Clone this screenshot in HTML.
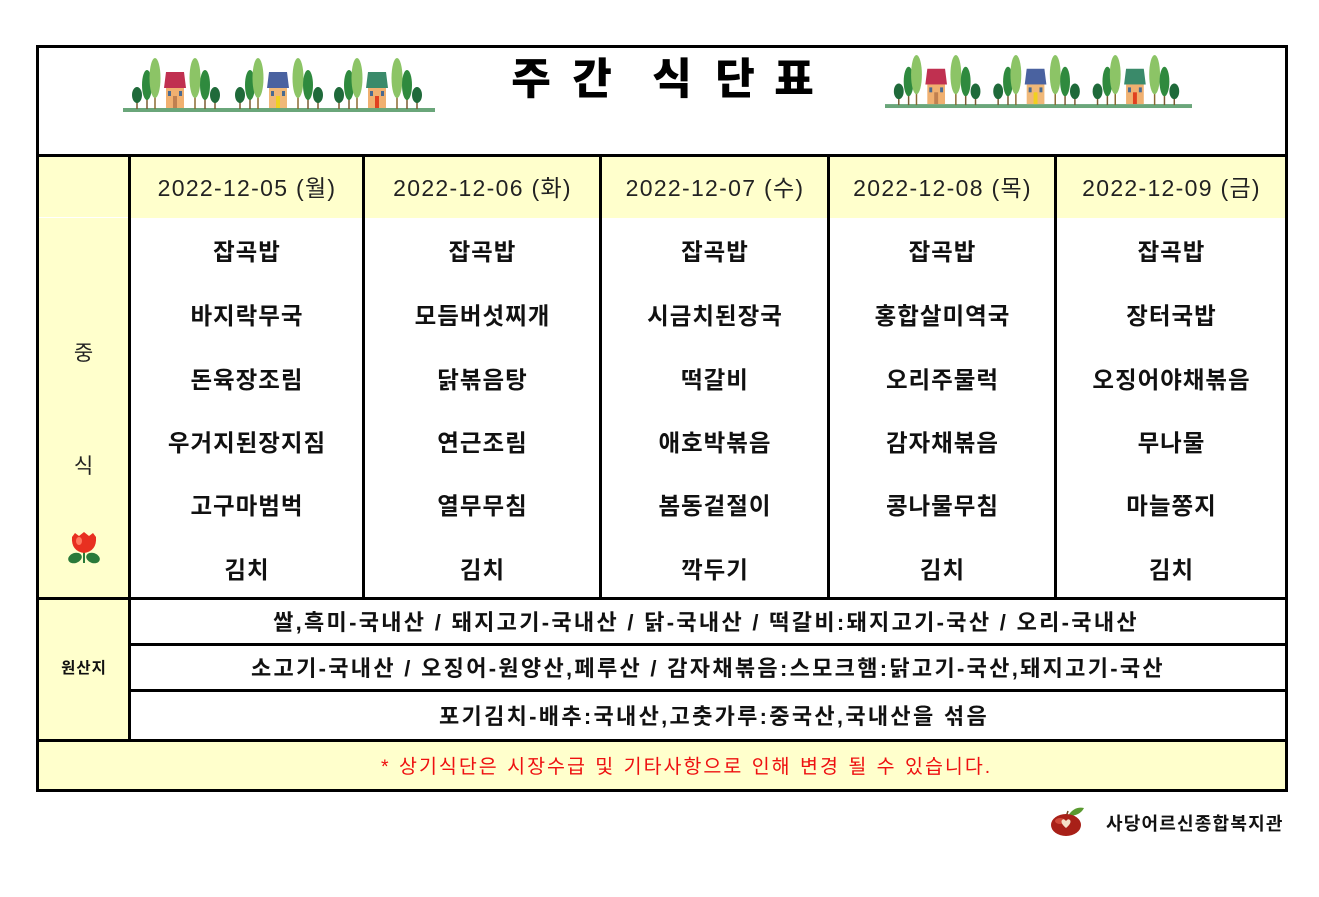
<!DOCTYPE html>
<html><head><meta charset="utf-8">
<style>
*{margin:0;padding:0;box-sizing:border-box}
body{width:1319px;height:897px;background:#fff;position:relative;overflow:hidden;font-family:"Liberation Sans","Noto Sans CJK KR",sans-serif;color:#111}
.a{position:absolute}
.ln{position:absolute;background:#000}
.y{position:absolute;background:#ffffcc}
.t{position:absolute;text-align:center;white-space:nowrap}
.m{font-size:23.5px;font-weight:700;height:30px;line-height:30px;color:#111;letter-spacing:1px;text-indent:1px}
.d{font-size:23px;font-weight:400;height:30px;line-height:30px;color:#222;letter-spacing:1.3px;text-indent:1px}
.o{font-size:22px;font-weight:700;height:30px;line-height:30px;color:#111;letter-spacing:2.3px;left:131px;width:1154px}
.ti{position:absolute;top:57px;font-size:43px;font-weight:900;line-height:46px;width:46px;text-align:center;color:#000}
</style></head><body>

<!-- fills -->
<div class="y" style="left:39px;top:157px;width:89px;height:583px"></div>
<div class="y" style="left:131px;top:157px;width:1154px;height:61px"></div>
<div class="y" style="left:39px;top:742px;width:1246px;height:48px"></div>
<div class="a" style="left:39px;top:217px;width:89px;height:1px;background:#fff"></div>

<!-- outer border -->
<div class="a" style="left:36px;top:45px;width:1252px;height:747px;border:3px solid #000"></div>
<!-- horizontal lines -->
<div class="ln" style="left:36px;top:154px;width:1252px;height:3px"></div>
<div class="ln" style="left:36px;top:597px;width:1252px;height:3px"></div>
<div class="ln" style="left:131px;top:643px;width:1154px;height:3px"></div>
<div class="ln" style="left:131px;top:689px;width:1154px;height:3px"></div>
<div class="ln" style="left:36px;top:739px;width:1252px;height:3px"></div>
<!-- vertical lines -->
<div class="ln" style="left:128px;top:154px;width:3px;height:587px"></div>
<div class="ln" style="left:362px;top:154px;width:3px;height:446px"></div>
<div class="ln" style="left:599px;top:154px;width:3px;height:446px"></div>
<div class="ln" style="left:827px;top:154px;width:3px;height:446px"></div>
<div class="ln" style="left:1054px;top:154px;width:3px;height:446px"></div>

<!-- title -->
<div class="ti" style="left:508px">주</div>
<div class="ti" style="left:569px">간</div>
<div class="ti" style="left:649px">식</div>
<div class="ti" style="left:712px">단</div>
<div class="ti" style="left:771px">표</div>

<!-- tree images -->
<svg class="a" style="left:123px;top:56px" width="312" height="57" viewBox="0 0 312 57">
<rect x="0" y="52" width="312" height="4" fill="#6aa67a"/>
<g transform="translate(14,0)">
  <line x1="0" y1="40" x2="0" y2="53" stroke="#7a5a30" stroke-width="1.5"/><ellipse cx="0" cy="39" rx="5" ry="8" fill="#1f6a3a"/>
  <line x1="10" y1="35" x2="10" y2="53" stroke="#7a5a30" stroke-width="1.5"/><ellipse cx="10" cy="29" rx="5" ry="15" fill="#2f8a3e"/>
  <line x1="18" y1="30" x2="18" y2="53" stroke="#8a6a30" stroke-width="1.5"/><ellipse cx="18" cy="22" rx="5.5" ry="20" fill="#8cc466"/>
  <polygon points="27,32 29,16 47,16 49,32" fill="#c03050"/><rect x="29" y="32" width="18" height="20" fill="#f0b070"/>
  <rect x="31" y="35" width="3" height="5" fill="#4a6a90"/><rect x="42" y="35" width="3" height="5" fill="#4a6a90"/><rect x="36" y="40" width="4" height="12" fill="#c08050"/>
  <line x1="58" y1="30" x2="58" y2="53" stroke="#8a6a30" stroke-width="1.5"/><ellipse cx="58" cy="22" rx="5.5" ry="20" fill="#8cc466"/>
  <line x1="68" y1="35" x2="68" y2="53" stroke="#7a5a30" stroke-width="1.5"/><ellipse cx="68" cy="29" rx="5" ry="15" fill="#2f8a3e"/>
  <line x1="78" y1="40" x2="78" y2="53" stroke="#7a5a30" stroke-width="1.5"/><ellipse cx="78" cy="39" rx="5" ry="8" fill="#1f6a3a"/>
</g>
<g transform="translate(117,0)">
  <line x1="0" y1="40" x2="0" y2="53" stroke="#7a5a30" stroke-width="1.5"/><ellipse cx="0" cy="39" rx="5" ry="8" fill="#1f6a3a"/>
  <line x1="10" y1="35" x2="10" y2="53" stroke="#7a5a30" stroke-width="1.5"/><ellipse cx="10" cy="29" rx="5" ry="15" fill="#2f8a3e"/>
  <line x1="18" y1="30" x2="18" y2="53" stroke="#8a6a30" stroke-width="1.5"/><ellipse cx="18" cy="22" rx="5.5" ry="20" fill="#8cc466"/>
  <polygon points="27,32 29,16 47,16 49,32" fill="#4a62a0"/><rect x="29" y="32" width="18" height="20" fill="#f0b878"/>
  <rect x="31" y="35" width="3" height="5" fill="#4a6a90"/><rect x="42" y="35" width="3" height="5" fill="#4a6a90"/><rect x="36" y="40" width="4" height="12" fill="#f0d020"/>
  <line x1="58" y1="30" x2="58" y2="53" stroke="#8a6a30" stroke-width="1.5"/><ellipse cx="58" cy="22" rx="5.5" ry="20" fill="#8cc466"/>
  <line x1="68" y1="35" x2="68" y2="53" stroke="#7a5a30" stroke-width="1.5"/><ellipse cx="68" cy="29" rx="5" ry="15" fill="#2f8a3e"/>
  <line x1="78" y1="40" x2="78" y2="53" stroke="#7a5a30" stroke-width="1.5"/><ellipse cx="78" cy="39" rx="5" ry="8" fill="#1f6a3a"/>
</g>
<g transform="translate(216,0)">
  <line x1="0" y1="40" x2="0" y2="53" stroke="#7a5a30" stroke-width="1.5"/><ellipse cx="0" cy="39" rx="5" ry="8" fill="#1f6a3a"/>
  <line x1="10" y1="35" x2="10" y2="53" stroke="#7a5a30" stroke-width="1.5"/><ellipse cx="10" cy="29" rx="5" ry="15" fill="#2f8a3e"/>
  <line x1="18" y1="30" x2="18" y2="53" stroke="#8a6a30" stroke-width="1.5"/><ellipse cx="18" cy="22" rx="5.5" ry="20" fill="#8cc466"/>
  <polygon points="27,32 29,16 47,16 49,32" fill="#3a8a6a"/><rect x="29" y="32" width="18" height="20" fill="#f0b070"/>
  <rect x="31" y="35" width="3" height="5" fill="#4a6a90"/><rect x="42" y="35" width="3" height="5" fill="#4a6a90"/><rect x="36" y="40" width="4" height="12" fill="#e04020"/>
  <line x1="58" y1="30" x2="58" y2="53" stroke="#8a6a30" stroke-width="1.5"/><ellipse cx="58" cy="22" rx="5.5" ry="20" fill="#8cc466"/>
  <line x1="68" y1="35" x2="68" y2="53" stroke="#7a5a30" stroke-width="1.5"/><ellipse cx="68" cy="29" rx="5" ry="15" fill="#2f8a3e"/>
  <line x1="78" y1="40" x2="78" y2="53" stroke="#7a5a30" stroke-width="1.5"/><ellipse cx="78" cy="39" rx="5" ry="8" fill="#1f6a3a"/>
</g>
</svg>

<svg class="a" style="left:885px;top:53px" width="307" height="56" viewBox="0 0 312 57" preserveAspectRatio="none">
<rect x="0" y="52" width="312" height="4" fill="#6aa67a"/>
<g transform="translate(14,0)">
  <line x1="0" y1="40" x2="0" y2="53" stroke="#7a5a30" stroke-width="1.5"/><ellipse cx="0" cy="39" rx="5" ry="8" fill="#1f6a3a"/>
  <line x1="10" y1="35" x2="10" y2="53" stroke="#7a5a30" stroke-width="1.5"/><ellipse cx="10" cy="29" rx="5" ry="15" fill="#2f8a3e"/>
  <line x1="18" y1="30" x2="18" y2="53" stroke="#8a6a30" stroke-width="1.5"/><ellipse cx="18" cy="22" rx="5.5" ry="20" fill="#8cc466"/>
  <polygon points="27,32 29,16 47,16 49,32" fill="#c03050"/><rect x="29" y="32" width="18" height="20" fill="#f0b070"/>
  <rect x="31" y="35" width="3" height="5" fill="#4a6a90"/><rect x="42" y="35" width="3" height="5" fill="#4a6a90"/><rect x="36" y="40" width="4" height="12" fill="#c08050"/>
  <line x1="58" y1="30" x2="58" y2="53" stroke="#8a6a30" stroke-width="1.5"/><ellipse cx="58" cy="22" rx="5.5" ry="20" fill="#8cc466"/>
  <line x1="68" y1="35" x2="68" y2="53" stroke="#7a5a30" stroke-width="1.5"/><ellipse cx="68" cy="29" rx="5" ry="15" fill="#2f8a3e"/>
  <line x1="78" y1="40" x2="78" y2="53" stroke="#7a5a30" stroke-width="1.5"/><ellipse cx="78" cy="39" rx="5" ry="8" fill="#1f6a3a"/>
</g>
<g transform="translate(115,0)">
  <line x1="0" y1="40" x2="0" y2="53" stroke="#7a5a30" stroke-width="1.5"/><ellipse cx="0" cy="39" rx="5" ry="8" fill="#1f6a3a"/>
  <line x1="10" y1="35" x2="10" y2="53" stroke="#7a5a30" stroke-width="1.5"/><ellipse cx="10" cy="29" rx="5" ry="15" fill="#2f8a3e"/>
  <line x1="18" y1="30" x2="18" y2="53" stroke="#8a6a30" stroke-width="1.5"/><ellipse cx="18" cy="22" rx="5.5" ry="20" fill="#8cc466"/>
  <polygon points="27,32 29,16 47,16 49,32" fill="#4a62a0"/><rect x="29" y="32" width="18" height="20" fill="#f0b878"/>
  <rect x="31" y="35" width="3" height="5" fill="#4a6a90"/><rect x="42" y="35" width="3" height="5" fill="#4a6a90"/><rect x="36" y="40" width="4" height="12" fill="#f0d020"/>
  <line x1="58" y1="30" x2="58" y2="53" stroke="#8a6a30" stroke-width="1.5"/><ellipse cx="58" cy="22" rx="5.5" ry="20" fill="#8cc466"/>
  <line x1="68" y1="35" x2="68" y2="53" stroke="#7a5a30" stroke-width="1.5"/><ellipse cx="68" cy="29" rx="5" ry="15" fill="#2f8a3e"/>
  <line x1="78" y1="40" x2="78" y2="53" stroke="#7a5a30" stroke-width="1.5"/><ellipse cx="78" cy="39" rx="5" ry="8" fill="#1f6a3a"/>
</g>
<g transform="translate(216,0)">
  <line x1="0" y1="40" x2="0" y2="53" stroke="#7a5a30" stroke-width="1.5"/><ellipse cx="0" cy="39" rx="5" ry="8" fill="#1f6a3a"/>
  <line x1="10" y1="35" x2="10" y2="53" stroke="#7a5a30" stroke-width="1.5"/><ellipse cx="10" cy="29" rx="5" ry="15" fill="#2f8a3e"/>
  <line x1="18" y1="30" x2="18" y2="53" stroke="#8a6a30" stroke-width="1.5"/><ellipse cx="18" cy="22" rx="5.5" ry="20" fill="#8cc466"/>
  <polygon points="27,32 29,16 47,16 49,32" fill="#3a8a6a"/><rect x="29" y="32" width="18" height="20" fill="#f0b070"/>
  <rect x="31" y="35" width="3" height="5" fill="#4a6a90"/><rect x="42" y="35" width="3" height="5" fill="#4a6a90"/><rect x="36" y="40" width="4" height="12" fill="#e04020"/>
  <line x1="58" y1="30" x2="58" y2="53" stroke="#8a6a30" stroke-width="1.5"/><ellipse cx="58" cy="22" rx="5.5" ry="20" fill="#8cc466"/>
  <line x1="68" y1="35" x2="68" y2="53" stroke="#7a5a30" stroke-width="1.5"/><ellipse cx="68" cy="29" rx="5" ry="15" fill="#2f8a3e"/>
  <line x1="78" y1="40" x2="78" y2="53" stroke="#7a5a30" stroke-width="1.5"/><ellipse cx="78" cy="39" rx="5" ry="8" fill="#1f6a3a"/>
</g>
</svg>

<!-- dates -->
<div class="t d" style="left:131px;width:231px;top:173px">2022-12-05 (월)</div>
<div class="t d" style="left:365px;width:234px;top:173px">2022-12-06 (화)</div>
<div class="t d" style="left:602px;width:225px;top:173px">2022-12-07 (수)</div>
<div class="t d" style="left:830px;width:224px;top:173px">2022-12-08 (목)</div>
<div class="t d" style="left:1057px;width:228px;top:173px">2022-12-09 (금)</div>

<!-- left labels -->
<div class="t" style="left:39px;width:89px;top:339px;font-size:21px;line-height:30px;color:#222">중</div>
<div class="t" style="left:39px;width:89px;top:452px;font-size:21px;line-height:30px;color:#222">식</div>
<svg class="a" style="left:66px;top:531px" width="36" height="36" viewBox="0 0 36 36">
  <ellipse cx="9" cy="27" rx="7" ry="5" fill="#2a7a3a" transform="rotate(-20 9 27)"/>
  <ellipse cx="27" cy="27" rx="7" ry="5" fill="#2a7a3a" transform="rotate(20 27 27)"/>
  <rect x="17" y="18" width="2" height="14" fill="#2a7a3a"/>
  <path d="M6 6 L9 2 L13 5 L18 1 L23 5 L27 2 L30 6 Q31 20 18 22 Q5 20 6 6Z" fill="#e83020"/>
  <ellipse cx="13" cy="10" rx="3" ry="4" fill="#ff7a60"/>
</svg>
<div class="t" style="left:39px;width:89px;top:654px;font-size:15.5px;font-weight:700;line-height:30px;color:#111;letter-spacing:1px;text-indent:1px">원산지</div>

<!-- menu -->
<div class="t m" style="left:131px;width:231px;top:237px">잡곡밥</div>
<div class="t m" style="left:131px;width:231px;top:301px">바지락무국</div>
<div class="t m" style="left:131px;width:231px;top:365px">돈육장조림</div>
<div class="t m" style="left:131px;width:231px;top:428px">우거지된장지짐</div>
<div class="t m" style="left:131px;width:231px;top:491px">고구마범벅</div>
<div class="t m" style="left:131px;width:231px;top:555px">김치</div>

<div class="t m" style="left:365px;width:234px;top:237px">잡곡밥</div>
<div class="t m" style="left:365px;width:234px;top:301px">모듬버섯찌개</div>
<div class="t m" style="left:365px;width:234px;top:365px">닭볶음탕</div>
<div class="t m" style="left:365px;width:234px;top:428px">연근조림</div>
<div class="t m" style="left:365px;width:234px;top:491px">열무무침</div>
<div class="t m" style="left:365px;width:234px;top:555px">김치</div>

<div class="t m" style="left:602px;width:225px;top:237px">잡곡밥</div>
<div class="t m" style="left:602px;width:225px;top:301px">시금치된장국</div>
<div class="t m" style="left:602px;width:225px;top:365px">떡갈비</div>
<div class="t m" style="left:602px;width:225px;top:428px">애호박볶음</div>
<div class="t m" style="left:602px;width:225px;top:491px">봄동겉절이</div>
<div class="t m" style="left:602px;width:225px;top:555px">깍두기</div>

<div class="t m" style="left:830px;width:224px;top:237px">잡곡밥</div>
<div class="t m" style="left:830px;width:224px;top:301px">홍합살미역국</div>
<div class="t m" style="left:830px;width:224px;top:365px">오리주물럭</div>
<div class="t m" style="left:830px;width:224px;top:428px">감자채볶음</div>
<div class="t m" style="left:830px;width:224px;top:491px">콩나물무침</div>
<div class="t m" style="left:830px;width:224px;top:555px">김치</div>

<div class="t m" style="left:1057px;width:228px;top:237px">잡곡밥</div>
<div class="t m" style="left:1057px;width:228px;top:301px">장터국밥</div>
<div class="t m" style="left:1057px;width:228px;top:365px">오징어야채볶음</div>
<div class="t m" style="left:1057px;width:228px;top:428px">무나물</div>
<div class="t m" style="left:1057px;width:228px;top:491px">마늘쫑지</div>
<div class="t m" style="left:1057px;width:228px;top:555px">김치</div>

<!-- origin -->
<div class="t o" style="top:608px;left:129px">쌀,흑미-국내산 / 돼지고기-국내산 / 닭-국내산 / 떡갈비:돼지고기-국산 / 오리-국내산</div>
<div class="t o" style="top:654px;left:131px">소고기-국내산 / 오징어-원양산,페루산 / 감자채볶음:스모크햄:닭고기-국산,돼지고기-국산</div>
<div class="t o" style="top:702px;left:137px">포기김치-배추:국내산,고춧가루:중국산,국내산을 섞음</div>

<!-- note -->
<div class="a" style="left:381px;top:752px;font-size:19.5px;line-height:30px;color:#ee1010;letter-spacing:2px;word-spacing:1px;white-space:nowrap">* 상기식단은 시장수급 및 기타사항으로 인해 변경 될 수 있습니다.</div>

<!-- footer logo -->
<svg class="a" style="left:1048px;top:804px" width="40" height="34" viewBox="0 0 40 34">
  <path d="M20 12 Q26 2 36 4 Q32 12 20 12Z" fill="#5a9a30"/>
  <line x1="18" y1="13" x2="20" y2="7" stroke="#6a4a20" stroke-width="1.5"/>
  <ellipse cx="18" cy="21" rx="15" ry="11" fill="#a82018"/>
  <ellipse cx="12" cy="17" rx="5" ry="3" fill="#d04a3a"/>
  <path d="M18 24 Q12 19 14 16 Q16 14 18 17 Q20 14 22 16 Q24 19 18 24Z" fill="#f4e0c8"/>
</svg>
<div class="a" style="left:1106px;top:811px;font-size:18px;font-weight:700;line-height:26px;color:#111;white-space:nowrap;letter-spacing:1.2px">사당어르신종합복지관</div>

</body></html>
